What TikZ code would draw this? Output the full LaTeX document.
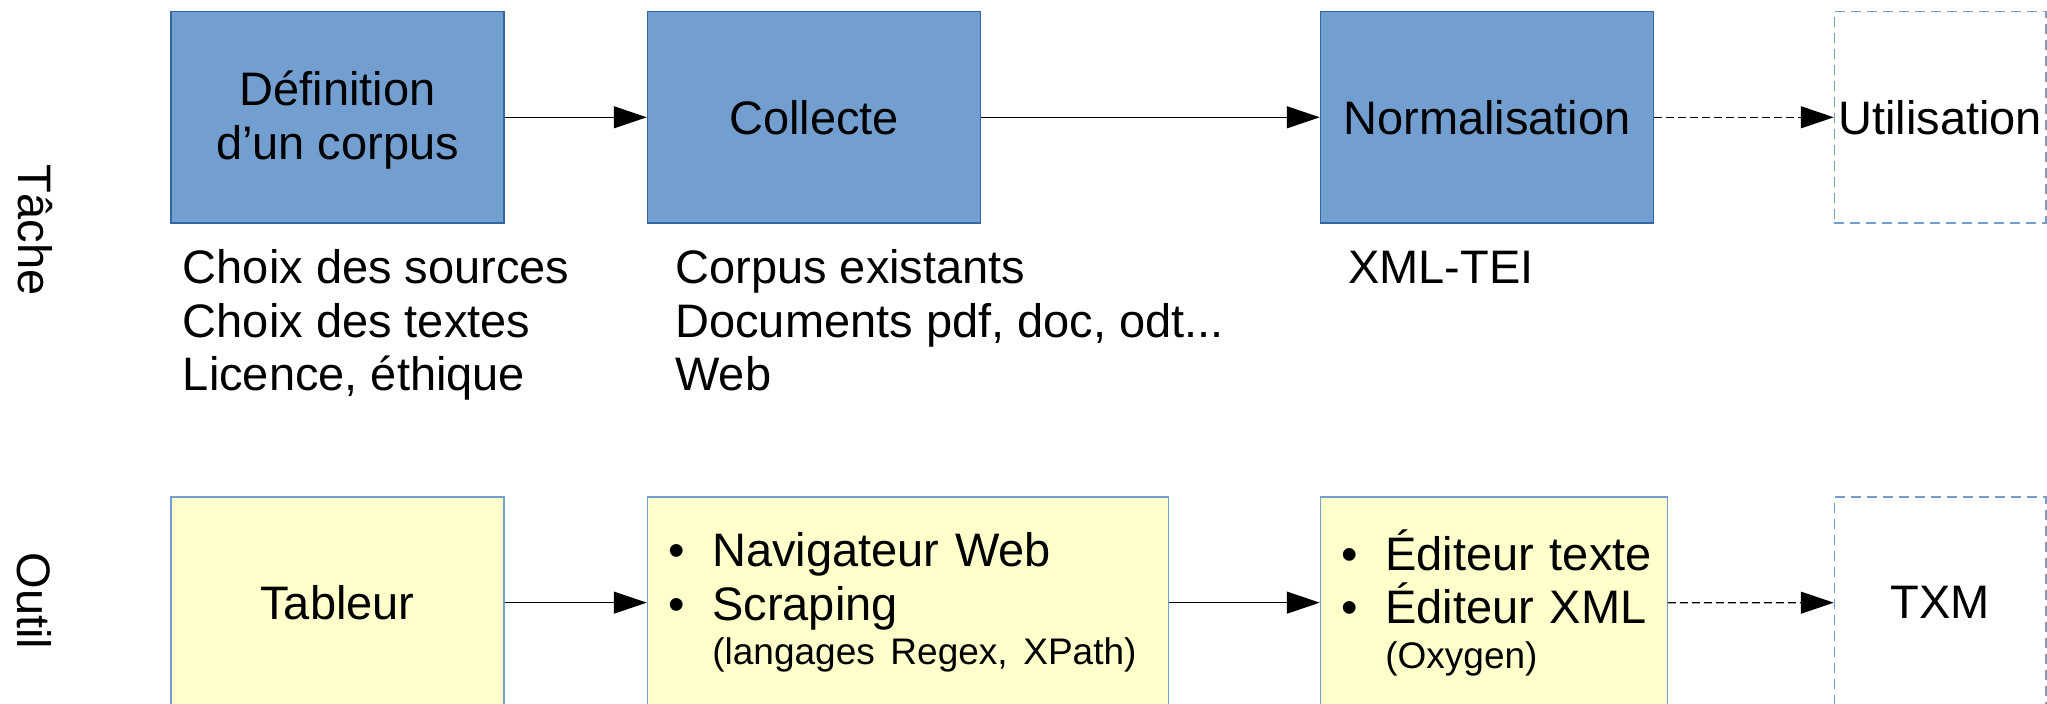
\documentclass[tikz,border=0pt]{standalone}
\usepackage{fontspec}
\setmainfont{Liberation Sans}
\usetikzlibrary{positioning,arrows.meta}

\definecolor{tachefill}{HTML}{729FCF}
\definecolor{tacheline}{HTML}{3465A4}
\definecolor{outilfill}{HTML}{FFFFCC}
\definecolor{outilline}{HTML}{729FCF}

\newcommand{\grand}{\fontsize{23.5pt}{26.75pt}\selectfont}
\newcommand{\petit}{\fontsize{18.5pt}{21pt}\selectfont}
\newcommand{\puce}[1]{\mbox{\makebox[22pt][l]{\textbullet}#1}}
\newcommand{\detail}[1]{\mbox{\hspace*{22pt}\petit #1}}

\tikzset{
  tache/.style={draw=tacheline, fill=tachefill, line width=0.75pt,
    minimum width=166.5pt, minimum height=105.65pt, inner sep=0pt,
    align=center, font=\grand},
  outil/.style={tache, draw=outilline, fill=outilfill, line width=0.6pt},
  liste/.style={outil, inner xsep=10.5pt, align=left},
  futur/.style={draw=outilline, line width=0.7pt, dash pattern=on 5pt off 3pt,
    minimum width=105.75pt, minimum height=105.65pt, inner sep=0pt, font=\grand},
  note/.style={inner sep=0pt, align=left, font=\grand, anchor=base west},
  rangee/.style={rotate=-90, inner sep=0pt, font=\grand},
  pointille/.style={dash pattern=on 4pt off 2pt},
}

\begin{document}
\begin{tikzpicture}[>={Triangle[length=16.5pt,width=11pt]}, line width=0.65pt]
  \useasboundingbox (0,0) rectangle (1023.5pt,-352pt);

  % taches
  \node[tache] (t1) at (168.75pt,-58.65pt) {\rule{0pt}{20pt}Définition\\d’un corpus};
  \node[tache, right=71pt of t1] (t2) {Collecte};
  \node[tache, right=169.25pt of t2] (t3) {Normalisation};
  \node[futur, right=89.75pt of t3] (t4) {Utilisation};

  % base = derniere ligne
  \node[note] (n1) at ([shift={(6pt,-83.5pt)}]t1.south west) {Choix des sources\\Choix des textes\\Licence, éthique};
  \node[note] (n2) at ([shift={(14pt,-83.5pt)}]t2.south west) {Corpus existants\\Documents pdf, doc, odt...\\Web};
  \node[note] (n3) at ([shift={(13.8pt,-30pt)}]t3.south west) {XML-TEI};

  % outils
  \node[outil, below=136.35pt of t1] (o1) {Tableur};
  \node[liste, text width=239.5pt, below=136.35pt of t2.south west, anchor=north west] (o2)
    {\puce{Navigateur Web}\\\puce{Scraping}\\[-4.4pt]\detail{(langages Regex, XPath)}};
  \node[liste, text width=152.5pt, below=136.35pt of t3.south west, anchor=north west] (o3)
    {\puce{Éditeur texte}\\\puce{Éditeur XML}\\[-4.4pt]\detail{(Oxygen)}};
  \node[futur, below=136.35pt of t4] (o4) {TXM};

  \node[rangee] (lt) at (17.5pt,-115pt) {Tâche};
  \node[rangee] (lo) at (17.25pt,-300.5pt) {Outil};

  \draw[->] (t1) -- (t2);
  \draw[->] (t2) -- (t3);
  \draw[->, pointille] (t3) -- (t4);
  \draw[->] (o1) -- (o2);
  \draw[->] (o2) -- (o3);
  \draw[->, pointille] (o3) -- (o4);
\end{tikzpicture}
\end{document}
